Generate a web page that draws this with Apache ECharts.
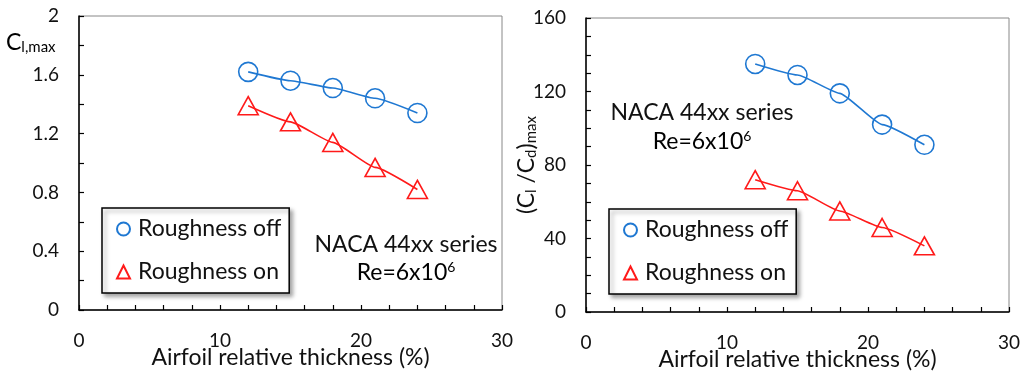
<!DOCTYPE html>
<html>
<head>
<meta charset="utf-8">
<script src="https://cdn.jsdelivr.net/npm/echarts@6/dist/echarts.min.js"></script>
<style>
  html, body { margin: 0; padding: 0; background: #fff; }
  #chart { width: 1028px; height: 372px; }
</style>
</head>
<body>
<div id="chart"></div>
<script>
// Airfoil relative thickness (%) of the NACA 44xx sections
const thickness = [12, 15, 18, 21, 24];

// Maximum lift coefficient
const clMaxOff = [1.62, 1.56, 1.51, 1.44, 1.34];
const clMaxOn  = [1.39, 1.28, 1.14, 0.97, 0.82];

// Maximum lift-to-drag ratio
const ldMaxOff = [135, 129, 119, 102, 91];
const ldMaxOn  = [72, 66, 55, 46, 36];

const seriesNames = ['Roughness off', 'Roughness on'];
const xTitle = 'Airfoil relative thickness (%)';

const FONT = 'Lato, "Liberation Sans", Arial, sans-serif';
const BLUE = '#1f78d2';
const RED = '#ff1a1a';
const INK = '#111';

function pairs(xs, ys) { return xs.map((x, i) => [x, ys[i]]); }

function xAxisFor(gridIndex) {
  return {
    type: 'value', gridIndex, min: 0, max: 30, interval: 10,
    name: xTitle, nameLocation: 'middle', nameGap: 36, nameMoveOverlap: false,
    nameTextStyle: { fontFamily: FONT, fontSize: 23, color: INK },
    axisLine: { show: true, onZero: false, lineStyle: { color: '#000', width: 1.5 } },
    axisTick: { show: true, inside: true, length: 5, lineStyle: { color: '#000', width: 1.2 } },
    minorTick: { show: true, splitNumber: 5, length: 5, lineStyle: { color: '#000', width: 1.2 } },
    axisLabel: { fontFamily: FONT, fontSize: 19, color: INK, margin: 21 },
    splitLine: { show: false }
  };
}

function yAxisFor(gridIndex, max, interval, minor) {
  return {
    type: 'value', gridIndex, min: 0, max, interval,
    axisLine: { show: true, onZero: false, lineStyle: { color: '#000', width: 1.5 } },
    axisTick: { show: true, inside: true, length: 5, lineStyle: { color: '#000', width: 1.2 } },
    minorTick: { show: true, splitNumber: minor, length: 5, lineStyle: { color: '#000', width: 1.2 } },
    axisLabel: { fontFamily: FONT, fontSize: 19, color: INK, margin: 20 },
    splitLine: { show: false }
  };
}

function lineSeries(name, idx, ys, color, symbol, size) {
  return {
    name, type: 'line', xAxisIndex: idx, yAxisIndex: idx,
    data: pairs(thickness, ys),
    smooth: 0.15, smoothMonotone: 'x',
    symbol, symbolSize: size, showSymbol: true,
    itemStyle: { color: 'rgba(255,255,255,0)', borderColor: color, borderWidth: 1.6 },
    lineStyle: { color, width: 1.6 },
    emphasis: { disabled: true },
    animation: false
  };
}

function legendAt(left, top) {
  return {
    orient: 'vertical', left, top,
    data: [
      { name: seriesNames[0], icon: 'circle' },
      { name: seriesNames[1], icon: 'triangle' }
    ],
    itemWidth: 13, itemHeight: 13, itemGap: 19,
    padding: [9, 8, 9, 14],
    backgroundColor: '#fff',
    borderColor: '#000', borderWidth: 1.5, borderRadius: 0,
    shadowColor: 'rgba(0,0,0,0.35)', shadowBlur: 4, shadowOffsetX: 3, shadowOffsetY: 3,
    selectedMode: false,
    textStyle: { fontFamily: FONT, fontSize: 23, color: INK, lineHeight: 24, padding: [0, 0, 0, 3] }
  };
}

// Rich text styles for subscripts and superscripts
const rich = {
  m: { fontFamily: FONT, fontSize: 23, color: INK },
  s: { fontFamily: FONT, fontSize: 15, color: INK, padding: [10, 0, 0, 0] },
  p: { fontFamily: FONT, fontSize: 14, color: INK, padding: [0, 0, 12, 0] }
};

function note(cx, y1, y2) {
  return [
    { type: 'text', x: cx, y: y1, style: { text: 'NACA 44xx series', font: '23px ' + FONT, fill: INK, align: 'center', verticalAlign: 'middle' } },
    { type: 'text', x: cx, y: y2, style: { text: '{m|Re=6x10}{p|6}', rich, align: 'center', verticalAlign: 'middle' } }
  ];
}

const chart = echarts.init(document.getElementById('chart'), null, { renderer: 'canvas' });

const gridBase = { show: true, borderColor: '#888', borderWidth: 1, backgroundColor: 'transparent', containLabel: false, outerBoundsMode: 'none' };

chart.setOption({
  animation: false,
  backgroundColor: '#fff',
  grid: [
    Object.assign({ left: 79, top: 16, width: 423, height: 294 }, gridBase),
    Object.assign({ left: 586, top: 18, width: 423, height: 294 }, gridBase)
  ],
  xAxis: [xAxisFor(0), xAxisFor(1)],
  yAxis: [
    yAxisFor(0, 2, 0.4, 2),
    Object.assign(yAxisFor(1, 160, 40, 4), {
      name: '{m|(C}{s|l}{m| /C}{s|d}{m|)}{s|max}',
      nameLocation: 'middle', nameRotate: 90, nameGap: 47, nameMoveOverlap: false,
      nameTextStyle: { rich }
    })
  ],
  legend: [legendAt(102, 208), legendAt(609, 209)],
  series: [
    lineSeries(seriesNames[0], 0, clMaxOff, BLUE, 'circle', 19),
    lineSeries(seriesNames[1], 0, clMaxOn, RED, 'triangle', [20, 18]),
    lineSeries(seriesNames[0], 1, ldMaxOff, BLUE, 'circle', 19),
    lineSeries(seriesNames[1], 1, ldMaxOn, RED, 'triangle', [20, 18])
  ],
  graphic: [
    { type: 'text', x: 6, y: 30, style: { text: '{m|C}{s|l,max}', rich } }
  ].concat(note(406, 245, 273), note(702, 113, 142))
});
</script>
</body>
</html>
